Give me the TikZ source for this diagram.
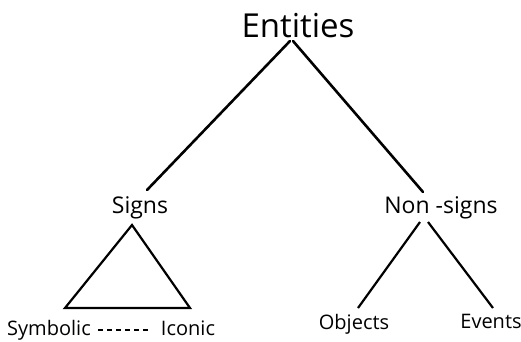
\documentclass[tikz,border=0pt]{standalone}
\usepackage{fontspec}
\setmainfont{Open Sans}
\begin{document}
\begin{tikzpicture}[x=1pt,y=-1pt,
  lbl/.style={inner sep=0pt, anchor=base},
  edge/.style={line width=2.6pt, line cap=round},
  thin/.style={line width=2.2pt, line join=miter}]
\useasboundingbox (0,0) rectangle (521,341);
\node[lbl, font=\fontsize{33}{36}\selectfont] (ent) at (298,37) {Entities};
\node[lbl, font=\fontsize{23}{26}\selectfont] (signs) at (140,213) {Signs};
\node[lbl, font=\fontsize{23}{26}\selectfont] (non) at (441,213) {Non -signs};
\node[lbl, font=\fontsize{20}{22}\selectfont] (sym) at (49,335) {Symbolic};
\node[lbl, font=\fontsize{20}{22}\selectfont] (ico) at (188,335) {Iconic};
\node[lbl, font=\fontsize{20}{22}\selectfont] (obj) at (354,329) {Objects};
\node[lbl, font=\fontsize{20}{22}\selectfont] (evt) at (491,328) {Events};
\coordinate (apex) at (132,225);
\coordinate (bl) at (65,308);
\coordinate (br) at (190,308);
\draw[edge] (290,41) -- (147,190);
\draw[edge] (293,41) -- (423,192);
\draw[thin] (apex) -- (bl) -- (br) -- cycle;
\draw[line width=1.6pt, dash pattern=on 5pt off 4pt] ([xshift=7pt,yshift=5pt]sym.base east) -- ([xshift=-9pt,yshift=5pt]ico.base west);
\draw[line width=2.2pt] (420,222) -- (358,308);
\draw[line width=2.2pt] (428,222) -- (493,308);
\end{tikzpicture}
\end{document}
